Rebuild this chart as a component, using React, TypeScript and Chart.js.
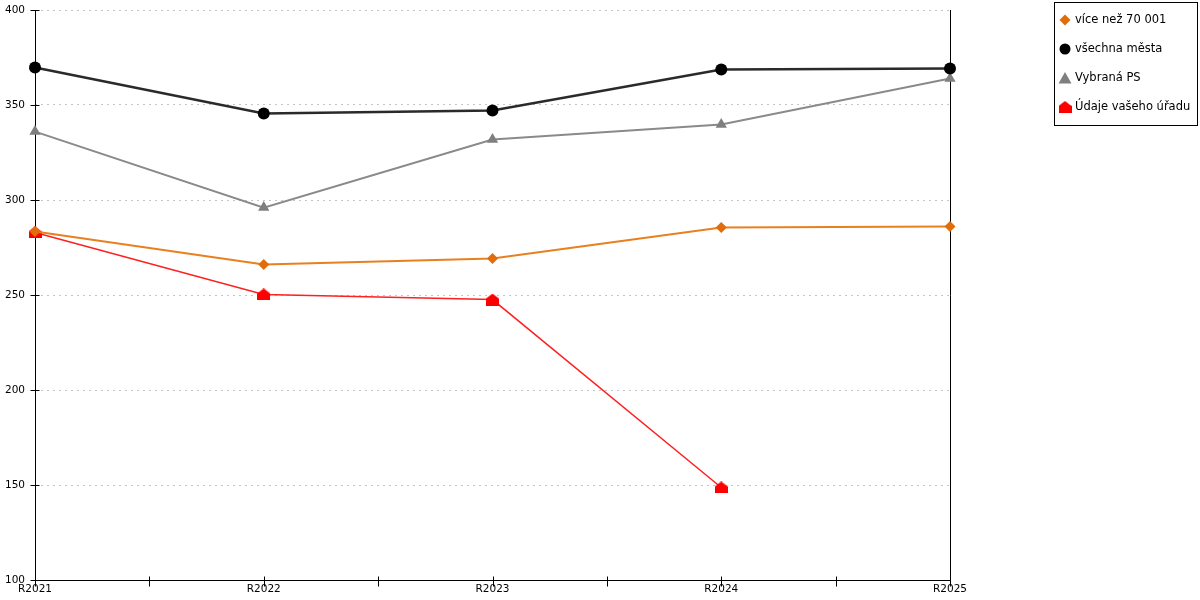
import { useEffect, useRef } from "react"
import { Chart, registerables, Plugin } from "chart.js"

Chart.register(...registerables)

const categories = ["R2021", "R2022", "R2023", "R2024", "R2025"]
const viceNez70001 = [283.4, 266, 269.2, 285.5, 286]
const vsechnaMesta = [369.7, 345.5, 347.1, 368.7, 369.2]
const vybranaPS = [336, 296, 331.8, 339.7, 364]
const udajeUradu = [282.9, 250.3, 247.6, 148.7, null]

const seriesNames = ["více než 70 001", "všechna města", "Vybraná PS", "Údaje vašeho úřadu"]
const FONT = "DejaVu Sans"

function makeHouse(color: string) {
  const c = document.createElement("canvas")
  c.width = 13
  c.height = 12
  const g = c.getContext("2d")!
  g.fillStyle = color
  g.beginPath()
  g.moveTo(6.5, 0)
  g.lineTo(13, 5)
  g.lineTo(13, 12)
  g.lineTo(0, 12)
  g.lineTo(0, 5)
  g.closePath()
  g.fill()
  return c
}

// axis lines, cross ticks and the right border
const axesPlugin: Plugin<"line"> = {
  id: "axes",
  beforeDatasetsDraw(chart) {
    const { ctx, chartArea } = chart
    const x = chart.scales.x
    const y = chart.scales.y
    const l = Math.round(chartArea.left) + 0.5
    const r = Math.round(chartArea.right) + 0.5
    const b = Math.round(chartArea.bottom) + 0.5
    const t = Math.round(chartArea.top)
    ctx.save()
    ctx.strokeStyle = "#000"
    ctx.lineWidth = 1
    ctx.beginPath()
    ctx.moveTo(l, t)
    ctx.lineTo(l, b)
    ctx.lineTo(r, b)
    ctx.moveTo(r, t)
    ctx.lineTo(r, b)
    y.ticks.forEach((tk) => {
      const py = Math.round(y.getPixelForValue(tk.value)) + 0.5
      ctx.moveTo(l - 5, py)
      ctx.lineTo(l + 4, py)
    })
    for (let i = 0; i < categories.length; i++) {
      const px = Math.round(x.getPixelForValue(i)) + 0.5
      ctx.moveTo(px, b - 4)
      ctx.lineTo(px, b + 6)
      if (i < categories.length - 1) {
        const mx = Math.round(x.getPixelForValue(i + 0.5)) + 0.5
        ctx.moveTo(mx, b - 4)
        ctx.lineTo(mx, b + 6)
      }
    }
    ctx.stroke()
    ctx.restore()
  },
}

const legendPlugin: Plugin<"line"> = {
  id: "boxLegend",
  afterDraw(chart) {
    const { ctx } = chart
    ctx.save()
    ctx.strokeStyle = "#000"
    ctx.lineWidth = 1
    ctx.strokeRect(1054.5, 2.5, 143, 123)
    ctx.font = `11.5px "${FONT}"`
    ctx.textBaseline = "middle"
    chart.data.datasets.forEach((ds, i) => {
      const cy = 20 + i * 29
      const cx = 1065
      ctx.fillStyle = (ds as any).pointBackgroundColor
      ctx.beginPath()
      if (i === 0) {
        ctx.moveTo(cx, cy - 5.5)
        ctx.lineTo(cx + 5.5, cy)
        ctx.lineTo(cx, cy + 5.5)
        ctx.lineTo(cx - 5.5, cy)
        ctx.closePath()
        ctx.fill()
      } else if (i === 1) {
        ctx.arc(cx, cy, 5.5, 0, Math.PI * 2)
        ctx.fill()
      } else if (i === 2) {
        ctx.moveTo(cx, cy - 6)
        ctx.lineTo(cx + 6.5, cy + 5.5)
        ctx.lineTo(cx - 6.5, cy + 5.5)
        ctx.closePath()
        ctx.fill()
      } else {
        ctx.drawImage(makeHouse("#ff0000"), cx - 6.5, cy - 6)
      }
      ctx.fillStyle = "#000"
      ctx.fillText(seriesNames[i], 1075, cy)
    })
    ctx.restore()
  },
}

export default function App() {
  const chartRef = useRef<HTMLCanvasElement>(null)
  const chartInstance = useRef<Chart | null>(null)

  useEffect(() => {
    document.body.style.margin = "0"
    if (!chartRef.current) return
    if (chartInstance.current) chartInstance.current.destroy()
    const ctx = chartRef.current.getContext("2d")
    if (!ctx) return

    const house = makeHouse("#ff0000")

    chartInstance.current = new Chart(ctx, {
      type: "line",
      data: {
        labels: categories,
        datasets: [
          {
            label: seriesNames[0],
            data: viceNez70001,
            borderColor: "#e8801f",
            borderWidth: 2,
            pointBackgroundColor: "#e06c0a",
            pointBorderWidth: 0,
            pointStyle: "rectRot",
            pointRadius: 5.5,
            tension: 0,
          },
          {
            label: seriesNames[1],
            data: vsechnaMesta,
            borderColor: "#2a2a2a",
            borderWidth: 2.5,
            pointBackgroundColor: "#000000",
            pointBorderWidth: 0,
            pointStyle: "circle",
            pointRadius: 6,
            tension: 0,
          },
          {
            label: seriesNames[2],
            data: vybranaPS,
            borderColor: "#8a8a8a",
            borderWidth: 2,
            pointBackgroundColor: "#7f7f7f",
            pointBorderWidth: 0,
            pointStyle: "triangle",
            pointRadius: 6.5,
            tension: 0,
          },
          {
            label: seriesNames[3],
            data: udajeUradu,
            borderColor: "#ff2020",
            borderWidth: 1.5,
            pointBackgroundColor: "#ff0000",
            pointBorderWidth: 0,
            pointStyle: house,
            pointRadius: 6,
            tension: 0,
            spanGaps: false,
          },
        ],
      },
      options: {
        responsive: true,
        maintainAspectRatio: false,
        animation: false,
        layout: { autoPadding: false, padding: { top: 10, right: 250, left: 0, bottom: 0 } },
        plugins: {
          legend: { display: false },
          tooltip: { enabled: false },
        },
        scales: {
          x: {
            offset: false,
            grid: { display: false, drawTicks: false },
            border: { display: false },
            ticks: {
              color: "#000",
              padding: 3,
              maxRotation: 0,
              autoSkip: false,
              font: { family: FONT, size: 10.5 },
            },
            afterFit: (scale) => {
              scale.height = 20
            },
          },
          y: {
            min: 100,
            max: 400,
            grid: { color: "#c4c4c4", drawTicks: false, lineWidth: 1 },
            border: { display: false, dash: [2, 4] },
            ticks: {
              stepSize: 50,
              color: "#000",
              padding: 10,
              font: { family: FONT, size: 10.5 },
            },
            afterFit: (scale) => {
              scale.width = 35
              scale.paddingTop = 0
              scale.paddingBottom = 0
            },
          },
        },
      },
      plugins: [axesPlugin, legendPlugin],
    })

    return () => {
      if (chartInstance.current) {
        chartInstance.current.destroy()
        chartInstance.current = null
      }
    }
  }, [])

  return (
    <div style={{ position: "relative", width: 1200, height: 600 }}>
      <canvas ref={chartRef} />
    </div>
  )
}
